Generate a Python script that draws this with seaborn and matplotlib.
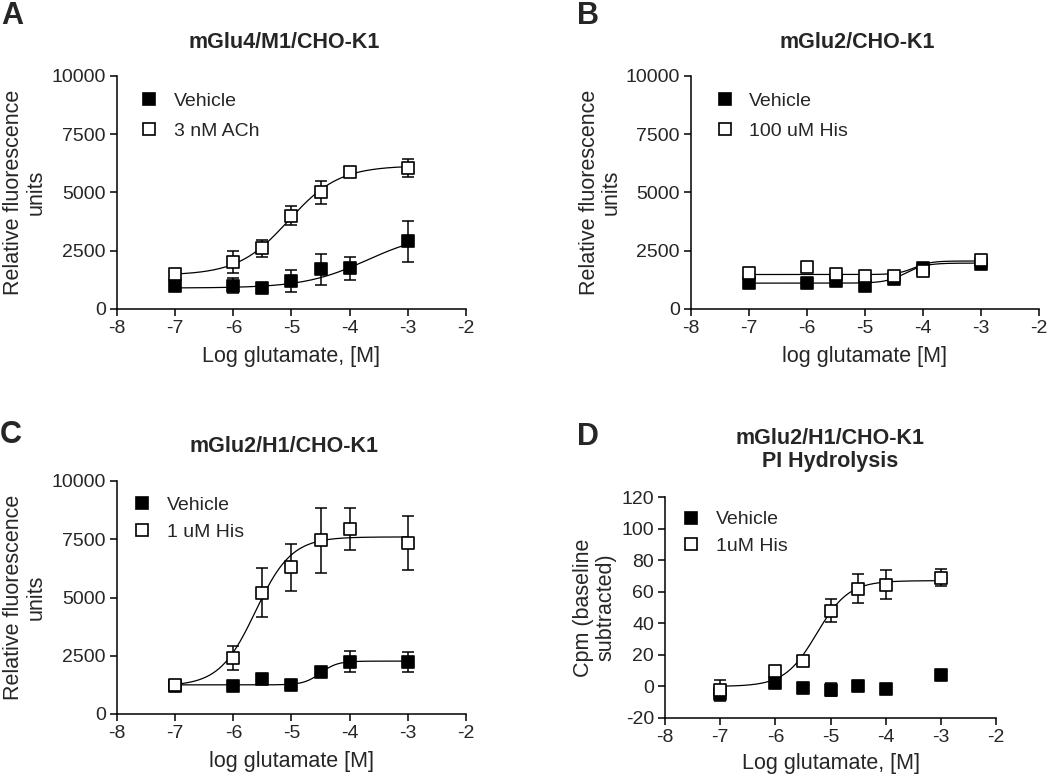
import matplotlib
matplotlib.use('Agg')
import matplotlib.pyplot as plt
from matplotlib.lines import Line2D
import numpy as np
import pandas as pd
import seaborn as sns

# glutamate concentrations (log M), shared by all panels
log_glu = [-7, -6, -5.5, -5, -4.5, -4, -3]

# A: mGlu4/M1/CHO-K1
a_vehicle = [1000, 1000, 900, 1200, 1700, 1750, 2900]
a_vehicle_err = [150, 310, 100, 480, 650, 500, 880]
a_ach = [1500, 2000, 2600, 4000, 5000, 5900, 6050]
a_ach_err = [100, 470, 370, 400, 480, 100, 380]
# fit parameters: bottom, top, logEC50, hill
a_vehicle_fit = [900, 3300, -3.7, 0.8]
a_ach_fit = [1450, 6150, -5.05, 1.0]

# B: mGlu2/CHO-K1
b_vehicle = [1100, 1100, 1200, 1000, 1300, 1750, 1950]
b_vehicle_err = [80, 80, 80, 80, 80, 80, 80]
b_his = [1550, 1800, 1500, 1400, 1400, 1650, 2100]
b_his_err = [100, 150, 100, 100, 100, 100, 150]
b_vehicle_fit = [1110, 1970, -4.3, 2.5]
b_his_fit = [1480, 2060, -4.15, 3.0]

# C: mGlu2/H1/CHO-K1
c_vehicle = [1200, 1200, 1500, 1250, 1800, 2250, 2250]
c_vehicle_err = [100, 100, 100, 100, 150, 450, 430]
c_his = [1250, 2400, 5200, 6300, 7450, 7950, 7350]
c_his_err = [100, 500, 1050, 1000, 1400, 900, 1150]
c_vehicle_fit = [1250, 2270, -4.5, 3.0]
c_his_fit = [1200, 7600, -5.62, 1.4]

# D: mGlu2/H1/CHO-K1 PI hydrolysis
d_vehicle = [-5, 2, -1, -2, 0, -1.5, 7]
d_vehicle_err = [4.5, 1, 1, 4, 1, 1, 1]
d_his = [-2, 9.5, 16, 48, 62, 64.5, 69]
d_his_err = [6, 1, 1, 7.5, 9, 9, 5.5]
d_his_fit = [0, 67, -5.25, 1.5]


def logistic(x, p):
    bottom, top, ec50, hill = p
    return bottom + (top - bottom) / (1 + 10 ** (hill * (ec50 - x)))


def draw_series(ax, y, err, filled, fit):
    if fit is not None:
        xs = np.linspace(-7, -3, 300)
        curve = pd.DataFrame({'x': xs, 'y': logistic(xs, fit)})
        sns.lineplot(data=curve, x='x', y='y', color='black', linewidth=0.9,
                     ax=ax, zorder=2)
    ax.errorbar(log_glu, y, yerr=err, fmt='none', ecolor='black',
                elinewidth=1.1, capsize=4.3, capthick=1.1, zorder=3)
    pts = pd.DataFrame({'x': log_glu, 'y': y})
    sns.scatterplot(data=pts, x='x', y='y', marker='s', s=78,
                    facecolor='black' if filled else 'white',
                    edgecolor='black', linewidth=1.2, ax=ax, zorder=4,
                    clip_on=False)


sns.set_style('ticks')
plt.rcParams['font.family'] = ['Liberation Sans', 'DejaVu Sans']
plt.rcParams['axes.unicode_minus'] = False

fig = plt.figure(figsize=(10.5, 7.76), dpi=100)
W, H = 1050, 776


def make_ax(left, right, top, bottom):
    return fig.add_axes([left / W, 1 - bottom / H, (right - left) / W, (bottom - top) / H])


panels = [
    dict(box=(117, 466, 76, 309), letter='A', lpos=(12, 16), title='mGlu4/M1/CHO-K1',
         tpos=(284, 42), veh=(a_vehicle, a_vehicle_err, a_vehicle_fit),
         trt=(a_ach, a_ach_err, a_ach_fit), trt_label='3 nM ACh',
         ylabel='Relative fluorescence\nunits', xlabel='Log glutamate, [M]',
         ylim=(0, 10000), yticks=[0, 2500, 5000, 7500, 10000],
         ylab_x=-0.203, leg=(0.065, 0.93), lsp=0.62),
    dict(box=(691, 1039, 76, 309), letter='B', lpos=(588, 16), title='mGlu2/CHO-K1',
         tpos=(857, 42), veh=(b_vehicle, b_vehicle_err, b_vehicle_fit),
         trt=(b_his, b_his_err, b_his_fit), trt_label='100 uM His',
         ylabel='Relative fluorescence\nunits', xlabel='log glutamate [M]',
         ylim=(0, 10000), yticks=[0, 2500, 5000, 7500, 10000],
         ylab_x=-0.198, leg=(0.07, 0.93), lsp=0.62),
    dict(box=(117, 466, 481, 714), letter='C', lpos=(11, 435), title='mGlu2/H1/CHO-K1',
         tpos=(284, 447), veh=(c_vehicle, c_vehicle_err, c_vehicle_fit),
         trt=(c_his, c_his_err, c_his_fit), trt_label='1 uM His',
         ylabel='Relative fluorescence\nunits', xlabel='log glutamate [M]',
         ylim=(0, 10000), yticks=[0, 2500, 5000, 7500, 10000],
         ylab_x=-0.203, leg=(0.045, 0.935), lsp=0.5),
    dict(box=(665, 996, 497, 718), letter='D', lpos=(588, 437),
         title='mGlu2/H1/CHO-K1\nPI Hydrolysis',
         tpos=(830, 450), veh=(d_vehicle, d_vehicle_err, None),
         trt=(d_his, d_his_err, d_his_fit), trt_label='1uM His',
         ylabel='Cpm (baseline\nsubtracted)', xlabel='Log glutamate, [M]',
         ylim=(-20, 120), yticks=[-20, 0, 20, 40, 60, 80, 100, 120],
         ylab_x=-0.148, leg=(0.05, 0.938), lsp=0.45),
]

for p in panels:
    ax = make_ax(*p['box'])
    draw_series(ax, p['veh'][0], p['veh'][1], True, p['veh'][2])
    draw_series(ax, p['trt'][0], p['trt'][1], False, p['trt'][2])

    ax.set_xlim(-8, -2)
    ax.set_ylim(*p['ylim'])
    ax.set_xticks([-8, -7, -6, -5, -4, -3, -2])
    ax.set_yticks(p['yticks'])
    ax.tick_params(labelsize=14, length=5, width=1.1, color='black', pad=3)
    for s in ('left', 'bottom'):
        ax.spines[s].set_linewidth(1.1)
        ax.spines[s].set_color('black')
    sns.despine(ax=ax)

    ax.set_ylabel(p['ylabel'], fontsize=15.5, linespacing=1.05)
    ax.yaxis.set_label_coords(p['ylab_x'], 0.5)
    ax.set_xlabel(p['xlabel'], fontsize=15.5)
    ax.xaxis.set_label_coords(0.5, -0.16)

    handles = [
        Line2D([], [], marker='s', ls='none', markersize=8.5, markerfacecolor='black',
               markeredgecolor='black', markeredgewidth=1.2),
        Line2D([], [], marker='s', ls='none', markersize=8.5, markerfacecolor='white',
               markeredgecolor='black', markeredgewidth=1.2),
    ]
    ax.legend(handles, ['Vehicle', p['trt_label']], loc='upper left',
              bbox_to_anchor=p['leg'], frameon=False, fontsize=14,
              handlelength=1.0, handletextpad=0.75, labelspacing=p['lsp'],
              borderaxespad=0, borderpad=0)

    fig.text(p['tpos'][0] / W, 1 - p['tpos'][1] / H, p['title'], ha='center', va='center',
             fontsize=15.5, fontweight='bold', linespacing=1.1)
    fig.text(p['lpos'][0] / W, 1 - p['lpos'][1] / H, p['letter'], ha='center', va='center',
             fontsize=22, fontweight='bold')

fig.savefig('out.png', dpi=100)
